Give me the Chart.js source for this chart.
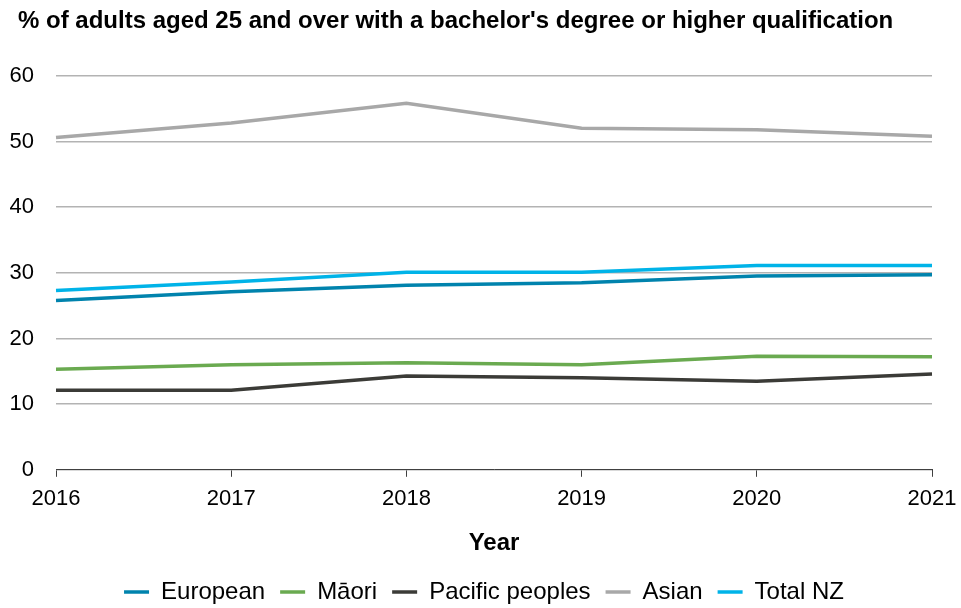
<!DOCTYPE html>
<html lang="en">
<head>
    <meta charset="UTF-8">
    <title>Bachelor's degree or higher by ethnicity</title>
    <script src="https://cdn.jsdelivr.net/npm/chart.js@4"></script>
    <style>
        body {
            margin: 0;
            background: white;
        }
        #wrap {
            width: 961px;
            height: 608px;
        }
    </style>
</head>
<body>
    <div id="wrap"><canvas id="chart" width="961" height="608"></canvas></div>
    <script>
        // values
        const years = ["2016", "2017", "2018", "2019", "2020", "2021"];
        const european = [25.8, 27.1, 28.1, 28.5, 29.5, 29.7];
        const maori = [15.3, 16.0, 16.3, 16.0, 17.3, 17.2];
        const pacific = [12.1, 12.1, 14.3, 14.0, 13.5, 14.6];
        const asian = [50.6, 52.8, 55.8, 52.0, 51.8, 50.8];
        const totalNZ = [27.3, 28.6, 30.1, 30.1, 31.1, 31.1];

        const font = "'Liberation Sans', Arial, sans-serif";

        function line(label, data, color) {
            return {
                label: label,
                data: data,
                borderColor: color,
                backgroundColor: color,
                borderWidth: 3.5,
                pointRadius: 0,
                tension: 0,
                fill: false
            };
        }

        // nudge the title a little right of the y tick labels
        const titleShift = {
            id: "titleShift",
            afterLayout(chart) {
                if (chart.titleBlock) chart.titleBlock.left = 18;
            }
        };

        new Chart(document.getElementById("chart"), {
            type: "line",
            data: {
                labels: years,
                datasets: [
                    line("European", european, "#0083ad"),
                    line("Māori", maori, "#6aaa50"),
                    line("Pacific peoples", pacific, "#3b3b37"),
                    line("Asian", asian, "#a8a8a8"),
                    line("Total NZ", totalNZ, "#00b3e8")
                ]
            },
            plugins: [titleShift],
            options: {
                responsive: false,
                animation: false,
                layout: { padding: { left: 9, right: 2, top: 0, bottom: -6 } },
                plugins: {
                    title: {
                        display: true,
                        text: "% of adults aged 25 and over with a bachelor's degree or higher qualification",
                        align: "start",
                        color: "#000",
                        font: { family: font, size: 24, weight: "bold" },
                        padding: { top: 7, bottom: 40 }
                    },
                    legend: {
                        position: "bottom",
                        labels: {
                            color: "#000",
                            font: { family: font, size: 24 },
                            usePointStyle: true,
                            pointStyle: "line",
                            pointStyleWidth: 25,
                            padding: 15
                        }
                    },
                    tooltip: { enabled: false }
                },
                scales: {
                    x: {
                        offset: false,
                        afterFit: function (scale) {
                            scale.paddingRight = 29;
                        },
                        grid: {
                            drawOnChartArea: false,
                            color: "#404040",
                            tickLength: 7
                        },
                        border: { color: "#404040", width: 1 },
                        ticks: {
                            color: "#000",
                            font: { family: font, size: 22 },
                            maxRotation: 0,
                            padding: 9
                        },
                        title: {
                            display: true,
                            text: "Year",
                            color: "#000",
                            font: { family: font, size: 24, weight: "bold" },
                            padding: { top: 8, bottom: 7 }
                        }
                    },
                    y: {
                        min: 0,
                        max: 60,
                        afterFit: function (scale) {
                            scale.width = 47;
                        },
                        ticks: {
                            stepSize: 10,
                            color: "#000",
                            font: { family: font, size: 22 },
                            padding: 22
                        },
                        grid: {
                            color: "#b3b3b3",
                            lineWidth: 1.5,
                            drawTicks: false
                        },
                        border: { display: false }
                    }
                }
            }
        });
    </script>
</body>
</html>
